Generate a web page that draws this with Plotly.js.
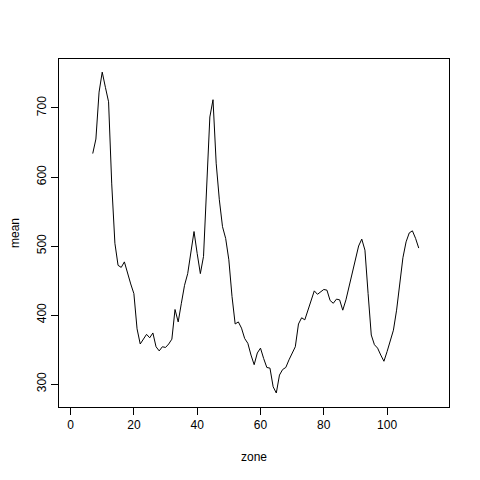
<!DOCTYPE html>
<html><head><meta charset="utf-8">
<script src="https://cdn.plot.ly/plotly-3.0.1.min.js"></script>
<style>html,body{margin:0;padding:0;background:#fff}#plot{width:480px;height:480px}</style>
</head><body><div id="plot"></div>
<script>
const zone = [7,8,9,10,11,12,13,14,15,16,17,18,19,20,21,22,23,24,25,26,27,28,29,30,31,32,33,34,35,36,37,38,39,40,41,42,43,44,45,46,47,48,49,50,51,52,53,54,55,56,57,58,59,60,61,62,63,64,65,66,67,68,69,70,71,72,73,74,75,76,77,78,79,80,81,82,83,84,85,86,87,88,89,90,91,92,93,94,95,96,97,98,99,100,101,102,103,104,105,106,107,108,109,110];
const meanVals = [634,655,723,752,730,709,590,504,472,469,477,460,445,431,380,358,366,372,367,374,354,348,354,353,358,365,408,390,417,443,460,489,521,489,460,485,596,687,712,620,567,528,511,480,427,387,390,381,366,359,342,328,345,352,337,324,323,296,287,313,321,324,335,345,354,387,396,393,407,422,435,430,433,437,436,421,417,423,422,407,422,441,458,480,500,510,494,431,371,357,352,342,333,347,363,378,407,448,483,506,519,522,511,497];
const xTicks = [0,20,40,60,80,100];
const yTicks = [300,400,500,600,700];

const font = {family: "Liberation Sans, Arial, sans-serif", size: 12, color: "#000"};
Plotly.newPlot("plot", [{
  x: zone, y: meanVals, type: "scatter", mode: "lines",
  line: {color: "#000", width: 1}, hoverinfo: "skip"
}], {
  width: 480, height: 480,
  margin: {l: 58.7, r: 30.7, t: 59, b: 73.3},
  paper_bgcolor: "#fff", plot_bgcolor: "#fff",
  showlegend: false, font: font,
  xaxis: {range: [-3.66, 119.56], tickvals: xTicks, ticktext: xTicks.map(String),
    ticks: "outside", ticklen: 7, tickwidth: 1, tickcolor: "#000",
    showgrid: false, zeroline: false, showline: true, mirror: true, linecolor: "#000", linewidth: 1,
    tickfont: font, title: {text: "zone", font: font, standoff: 21}, automargin: false},
  yaxis: {range: [266.7, 771], tickvals: yTicks, ticktext: yTicks.map(String),
    ticks: "outside", ticklen: 7, tickwidth: 1, tickcolor: "#000", tickangle: -90,
    showgrid: false, zeroline: false, showline: true, mirror: true, linecolor: "#000", linewidth: 1,
    tickfont: font, title: {text: "mean", font: font, standoff: 13}, automargin: false}
}, {staticPlot: true, displayModeBar: false});
</script></body></html>
